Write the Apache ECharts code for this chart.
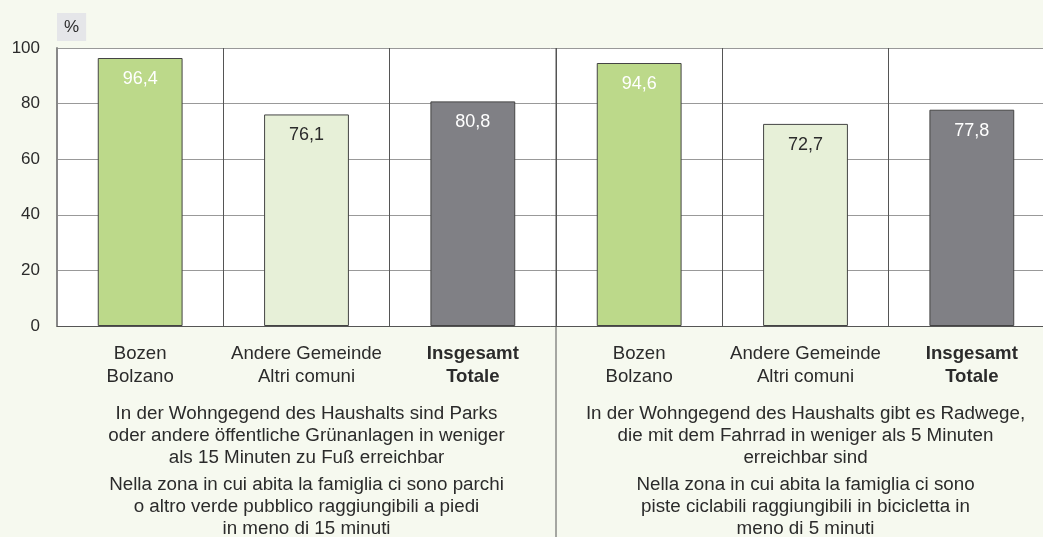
<!DOCTYPE html>
<html>
<head>
<meta charset="utf-8">
<script src="https://cdn.jsdelivr.net/npm/echarts@6/dist/echarts.min.js"></script>
<style>
html,body{margin:0;padding:0;background:#f6f9ef;}
#chart_1{width:1043px;height:537px;}
</style>
</head>
<body>
<div id="chart_1"></div>
<script>
// Kategorien (zwei Gruppen zu je drei Balken)
var categories = ['Bozen\nBolzano', 'Andere Gemeinde\nAltri comuni', 'Insgesamt\nTotale',
	'Bozen\nBolzano', 'Andere Gemeinde\nAltri comuni', 'Insgesamt\nTotale'];
var values = [96.4, 76.1, 80.8, 94.6, 72.7, 77.8];
var yTicks = [0, 20, 40, 60, 80, 100];

var groupTextLeft = [
	'In der Wohngegend des Haushalts sind Parks',
	'oder andere öffentliche Grünanlagen in weniger',
	'als 15 Minuten zu Fuß erreichbar'
];
var groupTextLeftIt = [
	'Nella zona in cui abita la famiglia ci sono parchi',
	'o altro verde pubblico raggiungibili a piedi',
	'in meno di 15 minuti'
];
var groupTextRight = [
	'In der Wohngegend des Haushalts gibt es Radwege,',
	'die mit dem Fahrrad in weniger als 5 Minuten',
	'erreichbar sind'
];
var groupTextRightIt = [
	'Nella zona in cui abita la famiglia ci sono',
	'piste ciclabili raggiungibili in bicicletta in',
	'meno di 5 minuti'
];

var barColors = ['#bcd98a', '#e7f0d8', '#808085'];
var labelColors = ['#ffffff', '#2b2b2b', '#ffffff'];

var gridLeft = 57, gridTop = 48, gridWidth = 998, gridHeight = 278;
var catW = gridWidth / categories.length;

var barData = [];
for (var i = 0; i < values.length; i++) {
	barData.push({
		value: values[i],
		itemStyle: { color: barColors[i % 3] },
		label: { color: labelColors[i % 3] }
	});
}

var fontFam = '"Liberation Sans", Arial, sans-serif';

function textBlock(lines, cx, y0) {
	return {
		type: 'text',
		x: cx,
		y: y0,
		style: {
			text: lines.join('\n'),
			align: 'center',
			verticalAlign: 'top',
			fontSize: 18.8,
			lineHeight: 22,
			fill: '#2b2b2b',
			fontFamily: fontFam
		}
	};
}

var cxLeft = gridLeft + catW * 1.5;
var cxRight = gridLeft + catW * 4.5;

var option = {
	backgroundColor: '#f6f9ef',
	animation: false,
	textStyle: { fontFamily: fontFam },
	grid: {
		left: gridLeft, top: gridTop, width: gridWidth, height: gridHeight,
		backgroundColor: '#ffffff', show: true, borderWidth: 0,
		outerBoundsMode: 'none', containLabel: false
	},
	xAxis: {
		type: 'category',
		data: categories,
		axisTick: { show: false },
		axisLine: { show: true, lineStyle: { color: '#555', width: 1 } },
		splitLine: { show: true, interval: 0, lineStyle: { color: '#555', width: 1 } },
		axisLabel: {
			interval: 0,
			margin: 16,
			fontSize: 18.6,
			lineHeight: 23,
			color: '#2b2b2b',
			formatter: function (v, idx) {
				if (idx % 3 === 2) {
					return v.split('\n').map(function (s) { return '{b|' + s + '}'; }).join('\n');
				}
				return v;
			},
			rich: { b: { fontWeight: 'bold', fontSize: 18.6, lineHeight: 23, color: '#2b2b2b' } }
		}
	},
	yAxis: {
		type: 'value',
		min: yTicks[0],
		max: yTicks[yTicks.length - 1],
		interval: 20,
		name: '%',
		nameLocation: 'end',
		nameGap: 7,
		nameTextStyle: {
			align: 'left',
			verticalAlign: 'bottom',
			fontSize: 17,
			color: '#2b2b2b',
			backgroundColor: '#e5e6e9',
			padding: [6, 7, 5, 7]
		},
		axisLine: { show: true, lineStyle: { color: '#888', width: 2 } },
		axisTick: { show: false },
		axisLabel: { fontSize: 17, color: '#2b2b2b', margin: 17 },
		splitLine: { lineStyle: { color: '#999', width: 1 } }
	},
	series: [{
		type: 'bar',
		barWidth: '51%',
		itemStyle: { borderColor: '#444', borderWidth: 1 },
		label: {
			show: true,
			position: 'insideTop',
			distance: 12,
			fontSize: 18,
			formatter: function (p) { return String(p.value).replace('.', ','); }
		},
		data: barData
	}],
	graphic: [
		{
			type: 'line',
			shape: { x1: gridLeft + catW * 3, y1: gridTop, x2: gridLeft + catW * 3, y2: 537 },
			style: { stroke: '#555', lineWidth: 1 },
			z: 10
		},
		textBlock(groupTextLeft, cxLeft, 403),
		textBlock(groupTextLeftIt, cxLeft, 474),
		textBlock(groupTextRight, cxRight, 403),
		textBlock(groupTextRightIt, cxRight, 474)
	]
};

var myChart = echarts.init(document.getElementById('chart_1'));
myChart.setOption(option);
</script>
</body>
</html>
